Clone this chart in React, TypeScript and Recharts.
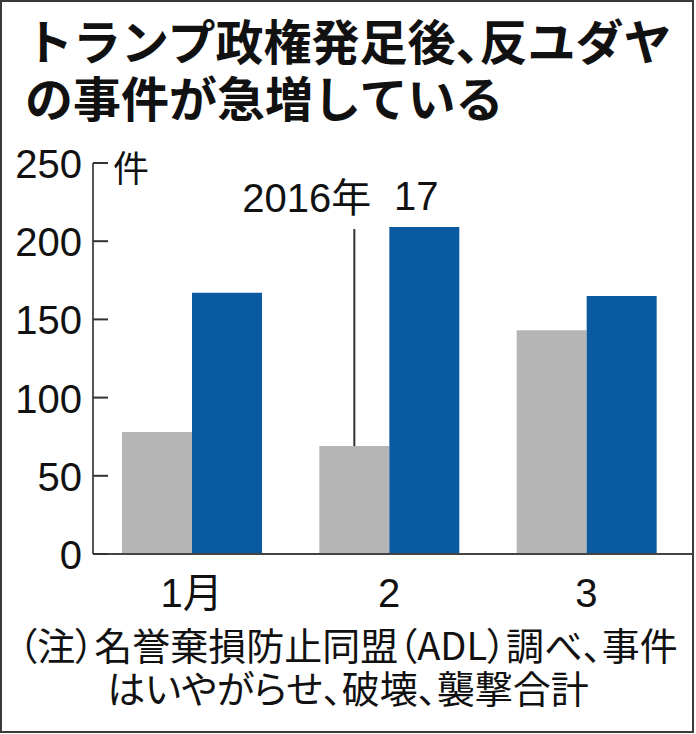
import React from "react";
import { BarChart, Bar, XAxis, YAxis, LabelList } from "recharts";

const months = ["1月", "2", "3"];
const count2016 = [78, 69, 143];
const count2017 = [167, 209, 165];
const yTicks = [0, 50, 100, 150, 200, 250];
const titleLines = [["トランプ政権発足後", "、", "反ユダヤ"], ["の事件が急増している"]];
const noteLines = ["（注）名誉棄損防止同盟（ADL）調べ、事件", "はいやがらせ、破壊、襲撃合計"];
const unitText = "件";
const seriesNames = ["2016年", "17"];
const annotatedIndex = 1;

const data = months.map((m, i) => ({ month: m, y2016: count2016[i], y2017: count2017[i] }));

const numFont = "'Liberation Sans', Arial, 'Noto Sans CJK JP', sans-serif";
const jpFont = "'Noto Sans CJK JP', 'Noto Sans', sans-serif";

function YTick(props: any) {
  const { x, y, payload } = props;
  return (
    <g>
      <line x1={x} y1={y} x2={x + 15} y2={y} stroke="#333" strokeWidth={2} />
      <text x={x - 11} y={y + 15} textAnchor="end" fontSize={40} fill="#111" fontFamily={numFont}>
        {payload.value}
      </text>
    </g>
  );
}

function XTick(props: any) {
  const { x, y, payload } = props;
  return (
    <text x={x} y={y + 53} textAnchor="middle" fontSize={40} fill="#111" fontFamily={numFont}>
      {payload.value}
    </text>
  );
}

// leader line from the 2016 bar, with the series name on top
function LeaderLabel(props: any) {
  const { x, y, width, index } = props;
  if (index !== annotatedIndex) return null;
  const cx = x + width / 2;
  const top = y - 217;
  return (
    <g>
      <line x1={cx} y1={y} x2={cx} y2={top} stroke="#333" strokeWidth={2} />
      <text x={cx + 17} y={top - 17} textAnchor="end" fontSize={40} fill="#111" fontFamily={numFont}>
        {seriesNames[0]}
      </text>
    </g>
  );
}

function SeriesLabel(props: any) {
  const { x, y, width, index } = props;
  if (index !== annotatedIndex) return null;
  return (
    <text x={x + width / 2 - 8} y={y - 17} textAnchor="middle" fontSize={40} fill="#111" fontFamily={numFont}>
      {seriesNames[1]}
    </text>
  );
}

export default function App() {
  return (
    <div style={{ position: "absolute", left: 0, top: 0, width: 696, height: 734, background: "#fff" }}>
      <div
        style={{
          position: "absolute",
          left: 0,
          top: 0,
          width: 694,
          height: 733,
          boxSizing: "border-box",
          border: "2px solid #3a3a3a",
        }}
      />
      <div
        style={{
          position: "absolute",
          left: 25,
          top: 11,
          fontFamily: jpFont,
          fontWeight: 700,
          fontSize: 48,
          lineHeight: "57px",
          color: "#111",
          whiteSpace: "nowrap",
        }}
      >
        {titleLines.map((parts, li) => (
          <div key={li}>
            {parts.map((p, pi) => (
              <span key={pi} style={p === "、" ? { fontFeatureSettings: "'halt'" } : undefined}>
                {p}
              </span>
            ))}
          </div>
        ))}
      </div>
      <div
        style={{
          position: "absolute",
          left: 113,
          top: 146,
          fontFamily: jpFont,
          fontSize: 36,
          lineHeight: "40px",
          color: "#111",
        }}
      >
        {unitText}
      </div>
      <div style={{ position: "absolute", left: 0, top: 0 }}>
        <BarChart
          width={696}
          height={734}
          data={data}
          margin={{ top: 163, right: 4, bottom: 120, left: 0 }}
          barGap={0}
          barSize={70}
        >
          <YAxis
            domain={[0, 250]}
            ticks={yTicks}
            width={93}
            tickSize={0}
            tickMargin={0}
            tickLine={false}
            axisLine={{ stroke: "#555", strokeWidth: 2 }}
            tick={<YTick />}
            interval={0}
          />
          <XAxis
            dataKey="month"
            height={60}
            tickSize={0}
            tickMargin={0}
            tickLine={false}
            axisLine={{ stroke: "#444", strokeWidth: 2 }}
            tick={<XTick />}
            padding={{ left: 0, right: 7 }}
          />
          <Bar dataKey="y2016" fill="#b5b5b5" isAnimationActive={false}>
            <LabelList dataKey="y2016" content={<LeaderLabel />} />
          </Bar>
          <Bar dataKey="y2017" fill="#0a5aa1" isAnimationActive={false}>
            <LabelList dataKey="y2017" content={<SeriesLabel />} />
          </Bar>
        </BarChart>
      </div>
      <div
        style={{
          position: "absolute",
          left: 0,
          top: 622,
          width: 696,
          textAlign: "center",
          fontFamily: jpFont,
          fontSize: 38,
          lineHeight: "43px",
          color: "#111",
          whiteSpace: "nowrap",
          fontFeatureSettings: "'palt'",
        }}
      >
        {noteLines.map((t) => (
          <div key={t}>{t}</div>
        ))}
      </div>
    </div>
  );
}
